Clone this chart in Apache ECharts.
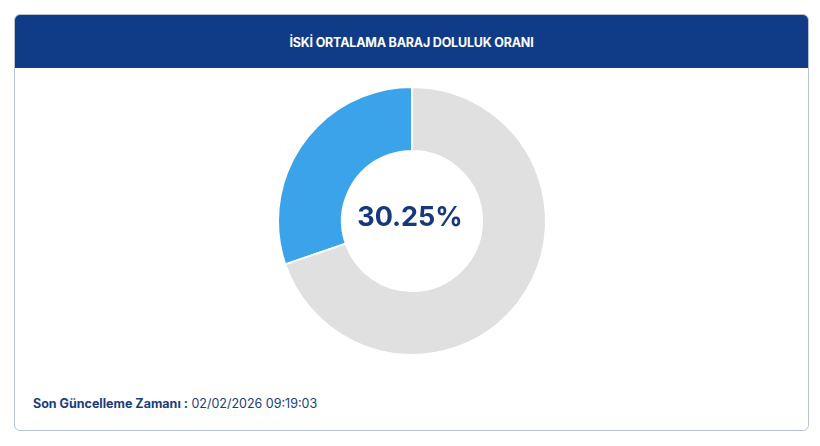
<!DOCTYPE html>
<html>
<head>
<meta charset="utf-8">
<script src="https://cdn.jsdelivr.net/npm/echarts@6/dist/echarts.min.js"></script>
<style>
  body { margin: 0; background: #fff; font-family: Inter, "Noto Sans", sans-serif; }
  .card { position: absolute; left: 14px; top: 14px; width: 795px; height: 417px;
    border: 1px solid #b9c3d3; border-radius: 6px; overflow: hidden; box-sizing: border-box; }
  .head { height: 53px; background: #0f3b87; color: #fff; font-weight: 700; font-size: 12.5px;
    text-align: center; line-height: 55px; letter-spacing: -0.2px; }
  .foot { position: absolute; left: 18px; top: 381px; font-size: 12.5px; color: #1a3d7c; }
  .foot b { font-weight: 700; }
  #chart { position: absolute; left: 0; top: 0; width: 820px; height: 446px; }
</style>
</head>
<body>
<div class="card">
  <div class="head">İSKİ ORTALAMA BARAJ DOLULUK ORANI</div>
  <div class="foot"><b>Son Güncelleme Zamanı :</b> 02/02/2026 09:19:03</div>
</div>
<div id="chart"></div>
<script>
  // baraj doluluk
  const labels = ['Dolu', 'Boş'];
  const values = [30.25, 69.75];
  const colors = ['#3aa3ea', '#e0e0e0'];

  const chart = echarts.init(document.getElementById('chart'));
  chart.setOption({
    animation: false,
    graphic: [{
      type: 'text', left: 'center', top: 204,
      style: { text: values[0].toFixed(2) + '%', fill: '#17397a',
        font: 'bold 27px Inter, "Noto Sans", sans-serif' }
    }],
    series: [{
      type: 'pie',
      center: [412, 221],
      radius: [70, 134],
      startAngle: 90,
      clockwise: false,
      label: { show: false },
      labelLine: { show: false },
      itemStyle: { borderColor: '#fff', borderWidth: 2 },
      data: labels.map((n, i) => ({ name: n, value: values[i], itemStyle: { color: colors[i] } }))
    }]
  });
</script>
</body>
</html>
